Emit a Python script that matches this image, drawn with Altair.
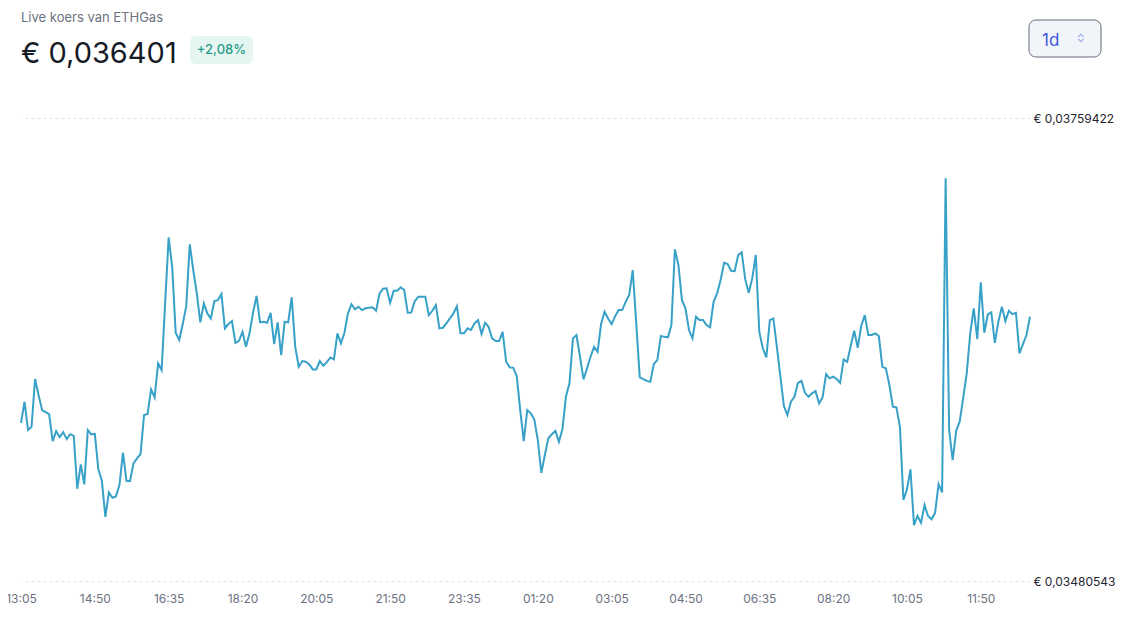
import altair as alt
import pandas as pd

# koers van ETHGas, elke 5 minuten vanaf 13:05
start = "2024-05-14 13:05"
koers = [
    0.035758, 0.035885, 0.035715, 0.035734, 0.036022, 0.035925, 0.035835, 0.035823, 0.035811, 0.035648, 0.035708, 0.035672,
    0.035702, 0.035660, 0.035690, 0.035680, 0.035361, 0.035508, 0.035387, 0.035715, 0.035689, 0.035692, 0.035478, 0.035409,
    0.035192, 0.035339, 0.035307, 0.035315, 0.035383, 0.035578, 0.035409, 0.035407, 0.035514, 0.035544, 0.035570, 0.035805,
    0.035811, 0.035960, 0.035911, 0.036116, 0.036076, 0.036479, 0.036875, 0.036698, 0.036301, 0.036257, 0.036353, 0.036461,
    0.036833, 0.036678, 0.036538, 0.036363, 0.036478, 0.036417, 0.036387, 0.036491, 0.036497, 0.036534, 0.036327, 0.036353,
    0.036371, 0.036240, 0.036252, 0.036306, 0.036216, 0.036297, 0.036421, 0.036523, 0.036363, 0.036367, 0.036361, 0.036421,
    0.036232, 0.036363, 0.036166, 0.036367, 0.036363, 0.036514, 0.036216, 0.036096, 0.036130, 0.036126, 0.036110, 0.036080,
    0.036080, 0.036130, 0.036102, 0.036124, 0.036152, 0.036140, 0.036297, 0.036237, 0.036301, 0.036417, 0.036473, 0.036442,
    0.036457, 0.036437, 0.036448, 0.036451, 0.036454, 0.036433, 0.036538, 0.036566, 0.036568, 0.036481, 0.036554, 0.036554,
    0.036574, 0.036558, 0.036421, 0.036423, 0.036491, 0.036517, 0.036517, 0.036517, 0.036407, 0.036433, 0.036467, 0.036327,
    0.036331, 0.036357, 0.036387, 0.036417, 0.036461, 0.036297, 0.036297, 0.036327, 0.036317, 0.036357, 0.036377, 0.036293,
    0.036361, 0.036337, 0.036267, 0.036251, 0.036251, 0.036306, 0.036126, 0.036092, 0.036090, 0.036040, 0.035835, 0.035648,
    0.035835, 0.035815, 0.035779, 0.035654, 0.035457, 0.035564, 0.035665, 0.035689, 0.035710, 0.035644, 0.035719, 0.035915,
    0.035996, 0.036267, 0.036287, 0.036156, 0.036020, 0.036086, 0.036156, 0.036216, 0.036186, 0.036353, 0.036427, 0.036387,
    0.036353, 0.036401, 0.036437, 0.036437, 0.036487, 0.036528, 0.036678, 0.036357, 0.036032, 0.036022, 0.036011, 0.036005,
    0.036112, 0.036136, 0.036281, 0.036276, 0.036273, 0.036347, 0.036803, 0.036708, 0.036497, 0.036448, 0.036317, 0.036267,
    0.036397, 0.036377, 0.036377, 0.036347, 0.036333, 0.036487, 0.036538, 0.036618, 0.036722, 0.036714, 0.036674, 0.036672,
    0.036769, 0.036785, 0.036622, 0.036541, 0.036628, 0.036769, 0.036306, 0.036207, 0.036152, 0.036377, 0.036387, 0.036216,
    0.036036, 0.035859, 0.035805, 0.035885, 0.035915, 0.035999, 0.036011, 0.035939, 0.035915, 0.035936, 0.035949, 0.035875,
    0.035911, 0.036052, 0.036026, 0.036036, 0.036022, 0.035999, 0.036140, 0.036126, 0.036220, 0.036313, 0.036210, 0.036343,
    0.036407, 0.036287, 0.036287, 0.036297, 0.036281, 0.036096, 0.036086, 0.035986, 0.035855, 0.035851, 0.035734, 0.035293,
    0.035357, 0.035478, 0.035142, 0.035197, 0.035156, 0.035263, 0.035197, 0.035177, 0.035216, 0.035389, 0.035339, 0.037231,
    0.035715, 0.035534, 0.035710, 0.035765, 0.035909, 0.036056, 0.036297, 0.036448, 0.036263, 0.036604, 0.036301, 0.036411,
    0.036423, 0.036240, 0.036367, 0.036457, 0.036371, 0.036433, 0.036413, 0.036421, 0.036176, 0.036232, 0.036287, 0.036397,
]
tijd = pd.date_range(start, periods=len(koers), freq="5min")
tick_tijden = pd.date_range(start, periods=14, freq="105min")

y_min, y_max = 0.03480543, 0.03759422

titel = "Live koers van ETHGas"
prijs = "€ 0,036401"
wijziging = "+2,08%"
periode = "1d"

FONT = "Inter"

df = pd.DataFrame({"tijd": tijd, "koers": koers})

x_ticks = [
    alt.DateTime(year=t.year, month=t.month, date=t.day, hours=t.hour, minutes=t.minute)
    for t in tick_tijden
]

lijn = alt.Chart(df).mark_line(color="#38a1c7", strokeWidth=2).encode(
    x=alt.X(
        "tijd:T",
        title=None,
        scale=alt.Scale(nice=False),
        axis=alt.Axis(
            values=x_ticks,
            format="%H:%M",
            labelFlush=False,
            grid=False,
            domain=False,
            ticks=False,
            labelPadding=12,
            labelColor="#6b7280",
            labelFontSize=12,
            labelFont=FONT,
        ),
    ),
    y=alt.Y(
        "koers:Q",
        title=None,
        scale=alt.Scale(domain=[y_min, y_max], nice=False, zero=False),
        axis=alt.Axis(
            orient="right",
            values=[y_min, y_max],
            labelExpr="'€ ' + replace(format(datum.value, '.8f'), '.', ',')",
            grid=True,
            gridDash=[3, 3],
            gridColor="#e3e5e9",
            domain=False,
            ticks=False,
            labelPadding=3,
            labelColor="#1f2430",
            labelFontSize=12,
            labelFont=FONT,
        ),
    ),
)

een = pd.DataFrame({"k": [0]})

kop = alt.Chart(een).mark_text(
    text=titel, align="left", baseline="alphabetic", fontSize=13, color="#6b7280", font=FONT
).encode(x=alt.value(0), y=alt.value(-96))

prijs_txt = alt.Chart(een).mark_text(
    text=prijs, align="left", baseline="alphabetic", fontSize=29, color="#161b26", font=FONT
).encode(x=alt.value(0), y=alt.value(-55))

badge = alt.Chart(een).mark_rect(cornerRadius=6, color="#e5f5f2").encode(
    x=alt.value(169), x2=alt.value(232), y=alt.value(-82), y2=alt.value(-54)
)
badge_txt = alt.Chart(een).mark_text(
    text=wijziging, align="center", baseline="middle", fontSize=13, fontWeight=500,
    color="#2a9d8a", font=FONT
).encode(x=alt.value(200.5), y=alt.value(-68))

knop = alt.Chart(een).mark_rect(
    cornerRadius=7, fill="#f1f4f9", stroke="#646b78", strokeWidth=1
).encode(x=alt.value(1008), x2=alt.value(1080), y=alt.value(-98), y2=alt.value(-61))
knop_txt = alt.Chart(een).mark_text(
    text=periode, align="left", baseline="alphabetic", fontSize=17, color="#3f57e0", font=FONT
).encode(x=alt.value(1021), y=alt.value(-72))
pijltjes = alt.Chart(een).mark_point(
    shape="M-0.5,-0.2L0,-0.7L0.5,-0.2M-0.5,0.2L0,0.7L0.5,0.2",
    filled=False, stroke="#8096ee", strokeWidth=1.2, size=110,
).encode(x=alt.value(1060), y=alt.value(-80))

chart = alt.layer(lijn, kop, prijs_txt, badge, badge_txt, knop, knop_txt, pijltjes).properties(
    width=1009,
    height=463,
    padding={"left": 13, "top": 110, "right": 86, "bottom": 34},
    autosize=alt.AutoSizeParams(type="none"),
).configure(font=FONT).configure_view(strokeWidth=0)

chart.save("out.html", embed_options={"renderer": "svg", "actions": False})
